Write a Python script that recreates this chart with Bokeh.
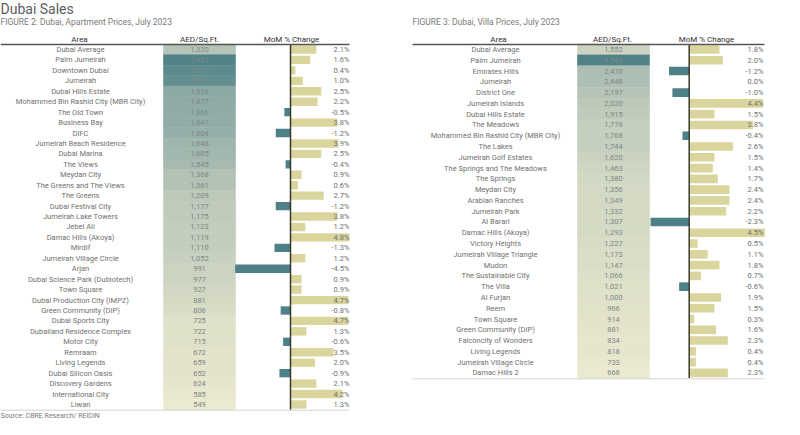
from bokeh.plotting import figure
from bokeh.layouts import row
from bokeh.models import Range1d, LinearColorMapper, ColumnDataSource
from bokeh.transform import factor_cmap
from bokeh.core.properties import value
from bokeh.embed import file_html
from bokeh.resources import INLINE

# ---------------- data ----------------
apt_areas = [
    "Dubai Average", "Palm Jumeirah", "Downtown Dubai", "Jumeirah", "Dubai Hills Estate",
    "Mohammed Bin Rashid City (MBR City)", "The Old Town", "Business Bay", "DIFC",
    "Jumeirah Beach Residence", "Dubai Marina", "The Views", "Meydan City",
    "The Greens and The Views", "The Greens", "Dubai Festival City", "Jumeirah Lake Towers",
    "Jebel Ali", "Damac Hills (Akoya)", "Mirdif", "Jumeirah Village Circle", "Arjan",
    "Dubai Science Park (Dubiotech)", "Town Square", "Dubai Production City (IMPZ)",
    "Green Community (DIP)", "Dubai Sports City", "Dubailand Residence Complex", "Motor City",
    "Remraam", "Living Legends", "Dubai Silicon Oasis", "Discovery Gardens",
    "International City", "Liwan",
]
apt_price = [1320, 2463, 2349, 2291, 1916, 1877, 1866, 1841, 1804, 1648, 1605, 1545, 1368,
             1361, 1209, 1177, 1175, 1123, 1119, 1110, 1052, 991, 977, 927, 881, 806, 725,
             722, 715, 672, 659, 652, 624, 585, 549]
apt_mom = [2.1, 1.6, 0.4, 1.0, 2.5, 2.2, -0.5, 3.8, -1.2, 3.9, 2.5, -0.4, 0.9, 0.6, 2.7, -1.2,
           3.8, 1.2, 4.8, -1.3, 1.2, -4.5, 0.9, 0.9, 4.7, -0.8, 4.7, 1.3, -0.6, 3.5, 2.0,
           -0.9, 2.1, 4.2, 1.3]

villa_areas = [
    "Dubai Average", "Palm Jumeirah", "Emirates Hills", "Jumeirah", "District One",
    "Jumeirah Islands", "Dubai Hills Estate", "The Meadows",
    "Mohammed Bin Rashid City (MBR City)", "The Lakes", "Jumeirah Golf Estates",
    "The Springs and The Meadows", "The Springs", "Meydan City", "Arabian Ranches",
    "Jumeirah Park", "Al Barari", "Damac Hills (Akoya)", "Victory Heights",
    "Jumeirah Village Triangle", "Mudon", "The Sustainable City", "The Villa", "Al Furjan",
    "Reem", "Town Square", "Green Community (DIP)", "Falconcity of Wonders",
    "Living Legends", "Jumeirah Village Circle", "Damac Hills 2",
]
villa_price = [1552, 4543, 2470, 2448, 2197, 2020, 1915, 1778, 1768, 1744, 1620, 1463, 1380,
               1356, 1349, 1332, 1307, 1293, 1227, 1173, 1147, 1066, 1021, 1000, 966, 914,
               881, 834, 818, 733, 668]
villa_mom = [1.8, 2.0, -1.2, 0.0, -1.0, 4.4, 1.5, 3.8, -0.4, 2.6, 1.5, 1.4, 1.7, 2.4, 2.4,
             2.2, -2.3, 4.5, 0.5, 1.1, 1.8, 0.7, -0.6, 1.9, 1.5, 0.3, 1.6, 2.3, 0.4, 0.4, 2.3]

headers = ["Area", "AED/Sq.Ft.", "MoM % Change"]
main_title = "Dubai Sales"
apt_subtitle = "FIGURE 2: Dubai, Apartment Prices, July 2023"
villa_subtitle = "FIGURE 3: Dubai, Villa Prices, July 2023"
source_text = "Source: CBRE Research/ REIDIN"

# ---------------- styles ----------------
FONT = "Roboto"
POS = "#d9d59c"
NEG = "#4e8087"
TXT = "#707070"


def hex2rgb(h):
    return tuple(int(h[i:i + 2], 16) for i in (1, 3, 5))


def make_palette(anchors, n=256):
    out = []
    for k in range(n):
        t = k / (n - 1)
        for (t0, c0), (t1, c1) in zip(anchors[:-1], anchors[1:]):
            if t0 <= t <= t1:
                f = (t - t0) / (t1 - t0) if t1 > t0 else 0
                a, b = hex2rgb(c0), hex2rgb(c1)
                rgb = [round(a[i] + (b[i] - a[i]) * f) for i in range(3)]
                out.append("#%02x%02x%02x" % tuple(rgb))
                break
    return out


PALETTE = make_palette([(0.0, "#ebe9cf"), (0.4, "#b5c4b6"), (0.71, "#8eaaa6"), (1.0, "#4f8388")])


def make_table(areas, price, mom, cfg):
    W, H = cfg["W"], cfg["H"]
    y0, s = cfg["y0"], cfg["s"]
    n = len(areas)

    def py(pix):
        return (pix - y0) / s

    zx, ppx = cfg["zero_x"], cfg["ppx"]
    p = figure(width=W, height=H, output_backend="svg", toolbar_location=None,
               x_range=Range1d(0, W), y_range=Range1d((H - y0) / s, -y0 / s),
               min_border=0, x_axis_location=None, y_axis_location=None,
               outline_line_color=None, background_fill_color="white",
               border_fill_color="white")
    p.extra_x_ranges = {"pct": Range1d(-zx / ppx, (W - zx) / ppx)}
    p.xgrid.visible = False
    p.ygrid.visible = False

    src = ColumnDataSource(dict(
        row=list(range(n)),
        area=areas,
        price=price,
        mom=mom,
        price_str=[f"{v:,}" for v in price],
        mom_str=[f"{v:.1f}%" for v in mom],
        sign=["neg" if v < 0 else "pos" for v in mom],
    ))

    mapper = LinearColorMapper(palette=PALETTE, low=min(price), high=max(price))

    # heat cells
    p.hbar(y="row", left=cfg["cell_l"], right=cfg["cell_r"], height=1.0, source=src,
           fill_color={"field": "price", "transform": mapper},
           line_color={"field": "price", "transform": mapper}, line_width=0.6)
    p.text(x=(cfg["cell_l"] + cfg["cell_r"]) / 2, y="row", text="price_str", source=src,
           text_align="center", text_baseline="middle", text_font=value(FONT),
           text_font_size="7.5px", text_color="#7d8887")

    # bars
    p.hbar(y="row", left=0, right="mom", height=0.8, source=src, x_range_name="pct",
           fill_color=factor_cmap("sign", [POS, NEG], ["pos", "neg"]), line_color=None)

    # zero line
    p.segment(x0=[0], x1=[0], y0=[py(cfg["hline_y"])], y1=[n - 0.5], x_range_name="pct",
              line_color="#3a3a2c", line_width=1.5)

    # area labels
    p.text(x=cfg["area_x"], y="row", text="area", source=src, text_align="center",
           text_baseline="middle", text_font=value(FONT), text_font_size="7.5px",
           text_color=TXT)
    # pct labels
    p.text(x=cfg["label_r"], y="row", text="mom_str", source=src, text_align="right",
           text_baseline="middle", text_font=value(FONT), text_font_size="7.5px",
           text_color=TXT)

    # header
    p.text(x=cfg["hdr_x"], y=[py(cfg["hdr_y"])] * 3, text=headers, text_align="center",
           text_baseline="middle", text_font=value(FONT), text_font_size="8px",
           text_color="#2f2f2f")
    p.segment(x0=[cfg["line_l"]], x1=[cfg["line_r"]], y0=[py(cfg["hline_y"])],
              y1=[py(cfg["hline_y"])], line_color="#555555", line_width=1.5)
    p.segment(x0=[cfg["line_l"]], x1=[cfg["line_r"]], y0=[n - 0.45], y1=[n - 0.45],
              line_color="#d3d3d3", line_width=1)

    # subtitle
    p.text(x=[cfg["sub_x"]], y=[py(cfg["sub_y"])], text=[cfg["subtitle"]], text_align="left",
           text_baseline="middle", text_font=value(FONT), text_font_size="8.5px",
           text_color="#7a7a7a")
    if cfg.get("title"):
        p.text(x=[0], y=[py(0)], text=[cfg["title"]], text_align="left", text_baseline="top",
               text_font=value(FONT), text_font_size="14px", text_color="#5a6062")
    if cfg.get("source"):
        p.text(x=[0], y=[py(cfg["src_y"])], text=[cfg["source"]], text_align="left",
               text_baseline="middle", text_font=value(FONT), text_font_size="7px",
               text_color="#7a7a7a")
    return p


apt_cfg = dict(W=392, H=419, y0=49, s=10.44, zero_x=290, ppx=12.3,
               cell_l=163, cell_r=235, area_x=80, label_r=349,
               hdr_x=[79, 199, 291], hdr_y=39, hline_y=44, line_l=0, line_r=349,
               sub_x=0, sub_y=21, subtitle=apt_subtitle, title=main_title,
               source=source_text, src_y=415)
villa_cfg = dict(W=392, H=419, y0=49, s=10.78, zero_x=296.7, ppx=16.8,
                 cell_l=185, cell_r=257, area_x=103, label_r=371,
                 hdr_x=[106, 220, 314], hdr_y=39, hline_y=44, line_l=20, line_r=372,
                 sub_x=20, sub_y=21, subtitle=villa_subtitle)

p1 = make_table(apt_areas, apt_price, apt_mom, apt_cfg)
p2 = make_table(villa_areas, villa_price, villa_mom, villa_cfg)

layout = row(p1, p2)
open("out.html", "w").write(file_html(layout, INLINE))
